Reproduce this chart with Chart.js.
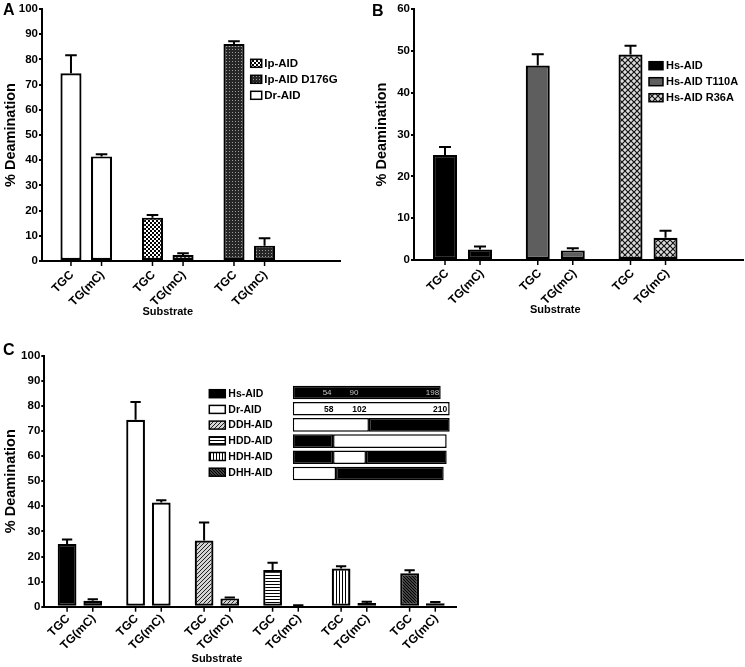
<!DOCTYPE html>
<html><head><meta charset="utf-8">
<script src="https://cdn.jsdelivr.net/npm/chart.js@4/dist/chart.umd.min.js"></script>
<style>
html,body{margin:0;padding:0;background:#fff;width:745px;height:667px;overflow:hidden;position:relative}
canvas{position:absolute}
</style></head><body>
<canvas id="cA" width="372" height="330" style="left:0;top:0;width:372px;height:330px"></canvas>
<canvas id="cB" width="375" height="330" style="left:370px;top:0;width:375px;height:330px"></canvas>
<canvas id="cC" width="745" height="332" style="left:0;top:335px;width:745px;height:332px"></canvas>
<canvas id="cS" width="180" height="105" style="left:280px;top:380px;width:180px;height:105px"></canvas>
<script>
// ---------- data ----------
const substrates = ['TGC', 'TG(mC)'];

const groupsA = ['Dr-AID', 'Ip-AID', 'Ip-AID D176G'];
const legendA = ['Ip-AID', 'Ip-AID D176G', 'Dr-AID'];
const tgcA = [74.5, 17.2, 86.1];
const tgcErrA = [7.1, 1.1, 1.1];
const tgmcA = [41.5, 2.4, 6.1];
const tgmcErrA = [0.9, 0.7, 2.9];

const groupsB = ['Hs-AID', 'Hs-AID T110A', 'Hs-AID R36A'];
const legendB = ['Hs-AID', 'Hs-AID T110A', 'Hs-AID R36A'];
const tgcB = [25.1, 46.5, 49.1];
const tgcErrB = [1.9, 2.7, 2.1];
const tgmcB = [2.5, 2.3, 5.3];
const tgmcErrB = [0.7, 0.5, 1.7];

const groupsC = ['Hs-AID', 'Dr-AID', 'DDH-AID', 'HDD-AID', 'HDH-AID', 'DHH-AID'];
const legendC = ['Hs-AID', 'Dr-AID', 'DDH-AID', 'HDD-AID', 'HDH-AID', 'DHH-AID'];
const tgcC = [25.0, 74.5, 26.4, 14.6, 15.2, 13.3];
const tgcErrC = [1.8, 7.1, 7.1, 2.9, 0.9, 1.2];
const tgmcC = [2.4, 41.5, 3.3, 0.4, 1.5, 1.4];
const tgmcErrC = [0.6, 0.9, 0.4, 0.2, 0.5, 0.5];

// schematic of the chimeras (residue ranges; H = human, D = Danio)
const schemeRows = ['Hs-AID', 'Dr-AID', 'DDH-AID', 'HDD-AID', 'HDH-AID', 'DHH-AID'];
const seg1 = [[0, 198], [0, 210], [0, 102], [0, 54], [0, 54], [0, 58]];
const seg1Src = ['H', 'D', 'D', 'H', 'H', 'D'];
const seg2 = [null, null, [102, 210], [54, 206], [54, 98], [58, 202]];
const seg2Src = [null, null, 'H', 'D', 'D', 'H'];
const seg3 = [null, null, null, null, [98, 206], null];
const seg3Src = [null, null, null, null, 'H', null];
const hsMarks = [54, 90, 198];
const drMarks = [58, 102, 210];

// ---------- styles ----------
const FONT = "'Liberation Sans', Arial, Helvetica, sans-serif";
Chart.defaults.font.family = FONT;
Chart.defaults.color = '#000';

function pattern(kind) {
  if (kind === 'black') return '#000';
  if (kind === 'white') return '#fff';
  if (kind === 'gray') return '#5e5e5e';
  const c = document.createElement('canvas');
  const g = c.getContext('2d');
  let s = 4;
  if (kind === 'check') {
    s = 4; c.width = c.height = s;
    g.fillStyle = '#fff'; g.fillRect(0, 0, s, s);
    g.fillStyle = '#000'; g.fillRect(0, 0, 2, 2); g.fillRect(2, 2, 2, 2);
  } else if (kind === 'dense') {
    s = 3; c.width = c.height = s;
    g.fillStyle = '#262626'; g.fillRect(0, 0, s, s);
    g.fillStyle = '#9a9a9a'; g.fillRect(1, 1, 1, 1);
  } else if (kind === 'diamond') {
    s = 6; c.width = c.height = s;
    g.fillStyle = '#dcdcdc'; g.fillRect(0, 0, s, s);
    g.strokeStyle = '#111'; g.lineWidth = 1.2;
    g.beginPath(); g.moveTo(0, 0); g.lineTo(s, s); g.moveTo(s, 0); g.lineTo(0, s); g.stroke();
  } else if (kind === 'diagUp') {
    s = 4; c.width = c.height = s;
    g.fillStyle = '#d4d4d4'; g.fillRect(0, 0, s, s);
    g.strokeStyle = '#222'; g.lineWidth = 1;
    g.beginPath(); g.moveTo(-1, s + 1); g.lineTo(s + 1, -1);
    g.moveTo(-1, 1); g.lineTo(1, -1); g.moveTo(s - 1, s + 1); g.lineTo(s + 1, s - 1); g.stroke();
  } else if (kind === 'diagDown') {
    s = 3; c.width = c.height = s;
    g.fillStyle = '#7a7a7a'; g.fillRect(0, 0, s, s);
    g.strokeStyle = '#000'; g.lineWidth = 1.3;
    g.beginPath(); g.moveTo(-1, -1); g.lineTo(s + 1, s + 1);
    g.moveTo(s - 1, -1); g.lineTo(s + 1, 1); g.moveTo(-1, s - 1); g.lineTo(1, s + 1); g.stroke();
  } else if (kind === 'hstripe') {
    c.width = 4; c.height = 3;
    g.fillStyle = '#fff'; g.fillRect(0, 0, 4, 3);
    g.fillStyle = '#000'; g.fillRect(0, 0, 4, 1);
  } else if (kind === 'vstripe') {
    c.width = 3; c.height = 4;
    g.fillStyle = '#fff'; g.fillRect(0, 0, 3, 4);
    g.fillStyle = '#000'; g.fillRect(0, 0, 1, 4);
  }
  return g.createPattern(c, 'repeat');
}

const fillsA = ['white', 'check', 'dense'];                 // per plotted group
const legendFillsA = ['check', 'dense', 'white'];
const fillsB = ['black', 'gray', 'diamond'];
const legendFillsB = ['black', 'gray', 'diamond'];
const fillsC = ['black', 'white', 'diagUp', 'hstripe', 'vstripe', 'diagDown'];
const legendFillsC = fillsC;

// ---------- plugin: error bars, bar labels, title, panel letter, legend ----------
const decor = {
  id: 'decor',
  afterDatasetsDraw(chart, args, o) {
    const ctx = chart.ctx, ys = chart.scales.y;
    ctx.save();
    ctx.strokeStyle = '#000'; ctx.lineWidth = 2; ctx.lineCap = 'butt';
    chart.data.datasets.forEach((ds, di) => {
      chart.getDatasetMeta(di).data.forEach((el, i) => {
        const v = ds.data[i].y, e = ds.errorBars[i];
        const top = ys.getPixelForValue(v + e), base = ys.getPixelForValue(v);
        const cap = el.width * o.capRatio;
        ctx.beginPath();
        ctx.moveTo(el.x, base); ctx.lineTo(el.x, top);
        ctx.moveTo(el.x - cap / 2, top); ctx.lineTo(el.x + cap / 2, top);
        ctx.stroke();
      });
    });
    ctx.restore();
  },
  afterDraw(chart, args, o) {
    const ctx = chart.ctx, area = chart.chartArea, xs = chart.scales.x;
    ctx.save();
    // tick marks + rotated labels under each bar
    ctx.strokeStyle = '#000'; ctx.lineWidth = 1.5;
    ctx.font = 'bold ' + o.labelSize + 'px ' + FONT;
    ctx.fillStyle = '#000';
    chart.data.datasets.forEach((ds, di) => {
      chart.getDatasetMeta(di).data.forEach((el) => {
        ctx.beginPath(); ctx.moveTo(el.x, area.bottom); ctx.lineTo(el.x, area.bottom + o.tickLen); ctx.stroke();
        ctx.save();
        ctx.translate(el.x + o.labelDx, area.bottom + o.labelDy);
        ctx.rotate(-Math.PI / 4);
        ctx.textAlign = 'right'; ctx.textBaseline = 'middle';
        ctx.fillText(substrates[di], 0, 0);
        ctx.restore();
      });
    });
    // axis title
    ctx.font = 'bold ' + o.titleSize + 'px ' + FONT;
    ctx.textAlign = 'center'; ctx.textBaseline = 'middle';
    ctx.fillText('Substrate', xs.getPixelForValue(o.titleValue), area.bottom + o.titleDy);
    // panel letter
    ctx.font = 'bold ' + o.letterSize + 'px ' + FONT;
    ctx.textAlign = 'left'; ctx.textBaseline = 'top';
    ctx.fillText(o.letter, o.letterX, o.letterY);
    // legend
    const L = o.legend;
    ctx.font = 'bold ' + L.size + 'px ' + FONT;
    ctx.textBaseline = 'middle';
    L.items.forEach((t, k) => {
      const bx = area.left + L.dx, cy = area.top + L.dy + k * L.rowH;
      ctx.fillStyle = pattern(L.fills[k]);
      ctx.fillRect(bx, cy - L.boxH / 2, L.boxW, L.boxH);
      ctx.strokeStyle = '#000'; ctx.lineWidth = 1.5;
      ctx.strokeRect(bx, cy - L.boxH / 2, L.boxW, L.boxH);
      ctx.fillStyle = '#000';
      ctx.fillText(t, bx + L.boxW + L.gap, cy + 0.5);
    });
    ctx.restore();
  }
};

function makePanel(id, cfg) {
  const groupTicks = cfg.groups.map((_, i) => ({ value: i }));
  const mk = (vals, errs, label) => ({
    label,
    data: vals.map((v, i) => ({ x: i, y: v })),
    errorBars: errs,
    backgroundColor: cfg.fills.map(pattern),
    borderColor: '#000',
    borderWidth: 2.2,
    borderSkipped: false,
    categoryPercentage: cfg.catPct,
    barPercentage: cfg.barPct
  });
  return new Chart(document.getElementById(id), {
    type: 'bar',
    data: { datasets: [mk(cfg.tgc, cfg.tgcErr, substrates[0]), mk(cfg.tgmc, cfg.tgmcErr, substrates[1])] },
    options: {
      responsive: false, animation: false, devicePixelRatio: 1,
      layout: { padding: cfg.padding },
      plugins: { legend: { display: false }, tooltip: { enabled: false }, decor: cfg.decor },
      scales: {
        x: {
          type: 'linear', min: cfg.xmin, max: cfg.xmax, offset: false,
          grid: { display: false }, ticks: { display: false },
          border: { display: true, color: '#000', width: 2 },
          afterBuildTicks: (s) => { s.ticks = groupTicks.map(t => ({ value: t.value })); },
          afterFit: (s) => { s.height = cfg.xAxisH; }
        },
        y: {
          min: 0, max: cfg.ymax,
          ticks: { stepSize: 10, padding: 1, color: '#000', font: { size: 11.5, weight: 'bold' } },
          grid: { display: true, drawOnChartArea: false, drawTicks: true, tickLength: 3, color: '#000', lineWidth: 2 },
          border: { display: true, color: '#000', width: 2 },
          title: { display: true, text: '% Deamination', color: '#000', font: { size: 14.5, weight: 'bold' }, padding: { top: cfg.yTitlePad, bottom: 0 } },
          afterFit: (s) => { s.width = cfg.yAxisW; }
        }
      }
    },
    plugins: [decor]
  });
}

makePanel('cA', {
  groups: groupsA, tgc: tgcA, tgcErr: tgcErrA, tgmc: tgmcA, tgmcErr: tgmcErrA, fills: fillsA,
  catPct: 0.75, barPct: 0.69, xmin: -0.543, xmax: 3.113, ymax: 100,
  padding: { left: 0, top: 9, right: 32, bottom: 0 }, xAxisH: 69, yAxisW: 42, yTitlePad: 2,
  decor: {
    capRatio: 0.55, tickLen: 5, labelSize: 12, labelDx: 1, labelDy: 12,
    titleSize: 11, titleValue: 1, titleDy: 51,
    letter: 'A', letterSize: 16, letterX: 3, letterY: 3,
    legend: { items: legendA, fills: legendFillsA, dx: 208.7, dy: 54.3, rowH: 16, boxW: 11, boxH: 8, gap: 2.5, size: 11.5 }
  }
});

makePanel('cB', {
  groups: groupsB, tgc: tgcB, tgcErr: tgcErrB, tgmc: tgmcB, tgmcErr: tgmcErrB, fills: fillsB,
  catPct: 0.755, barPct: 0.686, xmin: -0.523, xmax: 3.024, ymax: 60,
  padding: { left: 0, top: 9, right: 2, bottom: 0 }, xAxisH: 70, yAxisW: 44, yTitlePad: 3,
  decor: {
    capRatio: 0.5, tickLen: 5, labelSize: 12, labelDx: 2, labelDy: 11.5,
    titleSize: 11, titleValue: 1, titleDy: 50,
    letter: 'B', letterSize: 16, letterX: 2, letterY: 4,
    legend: { items: legendB, fills: legendFillsB, dx: 235, dy: 56.7, rowH: 16, boxW: 14, boxH: 8, gap: 3, size: 11 }
  }
});

makePanel('cC', {
  groups: groupsC, tgc: tgcC, tgcErr: tgcErrC, tgmc: tgmcC, tgmcErr: tgmcErrC, fills: fillsC,
  catPct: 0.75, barPct: 0.73, xmin: -0.52, xmax: 5.50, ymax: 100,
  padding: { left: 0, top: 20.7, right: 288.3, bottom: 0 }, xAxisH: 60.3, yAxisW: 44.3, yTitlePad: 2,
  decor: {
    capRatio: 0.55, tickLen: 5, labelSize: 12, labelDx: 1, labelDy: 10,
    titleSize: 11, titleValue: 2, titleDy: 52.3,
    letter: 'C', letterSize: 16, letterX: 3, letterY: 8,
    legend: { items: legendC, fills: legendFillsC, dx: 165, dy: 38, rowH: 15.7, boxW: 16, boxH: 8, gap: 3, size: 10.5 }
  }
});

// ---------- inset schematic ----------
const srcColor = (s) => s === 'H' ? '#000' : '#fff';
const insetLabels = {
  id: 'insetLabels',
  afterDatasetsDraw(chart) {
    const ctx = chart.ctx, xs = chart.scales.x, ys = chart.scales.y;
    ctx.save();
    ctx.textAlign = 'right'; ctx.textBaseline = 'middle';
    ctx.font = '8px ' + FONT; ctx.fillStyle = '#c4c4c4';
    hsMarks.forEach(m => ctx.fillText(String(m), xs.getPixelForValue(m) - 1.5, ys.getPixelForValue(0) + 0.5));
    ctx.font = 'bold 8.5px ' + FONT; ctx.fillStyle = '#000';
    drMarks.forEach(m => ctx.fillText(String(m), xs.getPixelForValue(m) - 2.5, ys.getPixelForValue(1) + 0.5));
    ctx.restore();
  }
};
const segDs = (seg, src) => ({
  data: seg,
  backgroundColor: src.map(s => s ? srcColor(s) : '#fff'),
  borderColor: '#000', borderWidth: 1.5, borderSkipped: false,
  grouped: false, barPercentage: 0.84, categoryPercentage: 1
});
new Chart(document.getElementById('cS'), {
  type: 'bar',
  data: { labels: schemeRows, datasets: [segDs(seg1, seg1Src), segDs(seg2, seg2Src), segDs(seg3, seg3Src)] },
  options: {
    indexAxis: 'y', responsive: false, animation: false, devicePixelRatio: 1,
    layout: { padding: { left: 12.7, right: 2.85, top: 4.4, bottom: 3.4 } },
    plugins: { legend: { display: false }, tooltip: { enabled: false } },
    scales: {
      x: { type: 'linear', min: 0, max: 220, display: false },
      y: { type: 'category', display: false }
    }
  },
  plugins: [insetLabels]
});
</script>
</body></html>
